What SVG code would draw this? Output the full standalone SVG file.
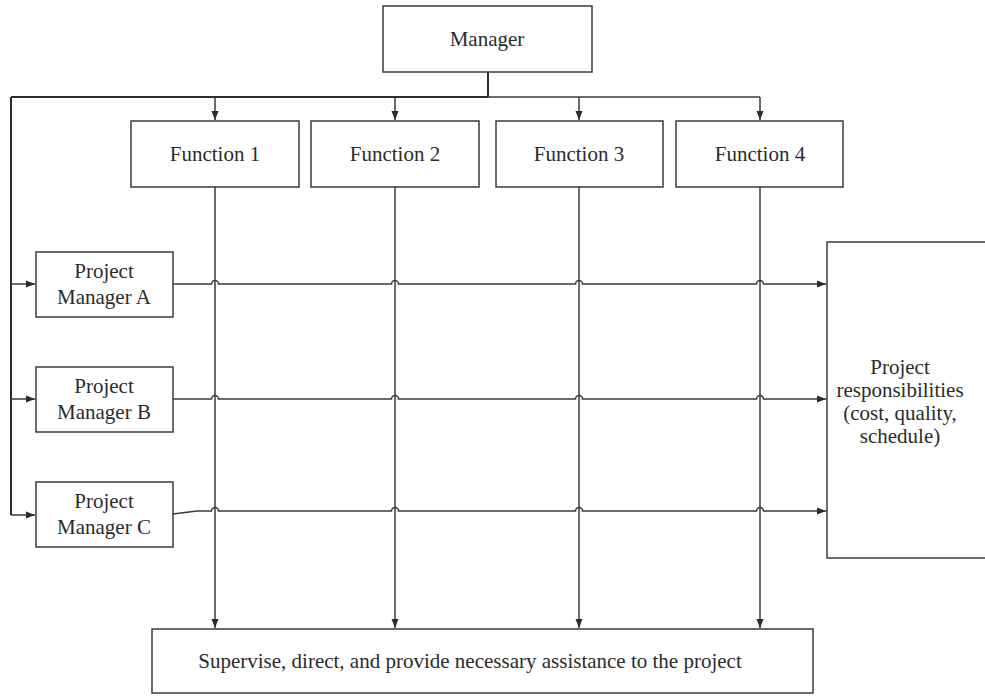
<svg xmlns="http://www.w3.org/2000/svg" width="985" height="697" viewBox="0 0 985 697">
  <defs>
    <marker id="arrow" markerWidth="10" markerHeight="8" refX="9" refY="4" orient="auto" markerUnits="userSpaceOnUse">
      <path d="M0,0.5 L9,4 L0,7.5 Z" fill="#2b2b2b"/>
    </marker>
    <style>
      .box { fill: #ffffff; stroke: #3a3a3a; stroke-width: 1.5; }
      .lbl { font-family: "Liberation Serif", "Times New Roman", serif; font-size: 21px; fill: #2b2b2b; text-anchor: middle; }
      .wire { fill: none; stroke: #3a3a3a; stroke-width: 1.5; }
      .bus { fill: none; stroke: #2b2b2b; stroke-width: 2; }
    </style>
  </defs>
  <rect width="985" height="697" fill="#ffffff"/>

  <!-- connectors -->
  <g id="connectors">
    <!-- manager trunk and distribution bus -->
    <path class="bus" d="M488,72 V97"/>
    <path class="bus" d="M11,97 H488"/>
    <path class="wire" d="M488,97 H760"/>
    <path class="bus" d="M11,97 V515"/>
    <!-- drops to functions -->
    <path class="wire" d="M215,97 V120" marker-end="url(#arrow)"/>
    <path class="wire" d="M395,97 V120" marker-end="url(#arrow)"/>
    <path class="wire" d="M579,97 V120" marker-end="url(#arrow)"/>
    <path class="wire" d="M760,97 V120" marker-end="url(#arrow)"/>
    <!-- feeds to project managers -->
    <path class="wire" d="M11,284 H35" marker-end="url(#arrow)"/>
    <path class="wire" d="M11,399 H35" marker-end="url(#arrow)"/>
    <path class="wire" d="M11,515 H35" marker-end="url(#arrow)"/>
    <!-- function verticals down to the support box -->
    <path class="wire" d="M215,187 V628" marker-end="url(#arrow)"/>
    <path class="wire" d="M395,187 V628" marker-end="url(#arrow)"/>
    <path class="wire" d="M579,187 V628" marker-end="url(#arrow)"/>
    <path class="wire" d="M760,187 V628" marker-end="url(#arrow)"/>
    <!-- project manager lines with hops over the function verticals -->
    <path class="wire" d="M173,284 H211.5 a3.5,3.5 0 0 1 7,0 H391.5 a3.5,3.5 0 0 1 7,0 H575.5 a3.5,3.5 0 0 1 7,0 H756.5 a3.5,3.5 0 0 1 7,0 H826" marker-end="url(#arrow)"/>
    <path class="wire" d="M173,399 H211.5 a3.5,3.5 0 0 1 7,0 H391.5 a3.5,3.5 0 0 1 7,0 H575.5 a3.5,3.5 0 0 1 7,0 H756.5 a3.5,3.5 0 0 1 7,0 H826" marker-end="url(#arrow)"/>
    <path class="wire" d="M173,514 L197,511 H211.5 a3.5,3.5 0 0 1 7,0 H391.5 a3.5,3.5 0 0 1 7,0 H575.5 a3.5,3.5 0 0 1 7,0 H756.5 a3.5,3.5 0 0 1 7,0 H826" marker-end="url(#arrow)"/>
  </g>

  <g id="manager">
    <rect class="box" x="383" y="6" width="209" height="66"/>
    <text class="lbl" x="487" y="46">Manager</text>
  </g>

  <g id="function-1">
    <rect class="box" x="131" y="121" width="168" height="66"/>
    <text class="lbl" x="215" y="161">Function 1</text>
  </g>
  <g id="function-2">
    <rect class="box" x="311" y="121" width="168" height="66"/>
    <text class="lbl" x="395" y="161">Function 2</text>
  </g>
  <g id="function-3">
    <rect class="box" x="496" y="121" width="167" height="66"/>
    <text class="lbl" x="579" y="161">Function 3</text>
  </g>
  <g id="function-4">
    <rect class="box" x="676" y="121" width="167" height="66"/>
    <text class="lbl" x="760" y="161">Function 4</text>
  </g>

  <g id="project-manager-a">
    <rect class="box" x="36" y="252" width="137" height="65"/>
    <text class="lbl" x="104" y="278">Project</text>
    <text class="lbl" x="104" y="304">Manager A</text>
  </g>
  <g id="project-manager-b">
    <rect class="box" x="36" y="367" width="137" height="65"/>
    <text class="lbl" x="104" y="393">Project</text>
    <text class="lbl" x="104" y="419">Manager B</text>
  </g>
  <g id="project-manager-c">
    <rect class="box" x="36" y="482" width="137" height="65"/>
    <text class="lbl" x="104" y="508">Project</text>
    <text class="lbl" x="104" y="534">Manager C</text>
  </g>

  <g id="project-responsibilities">
    <rect class="box" x="827" y="242" width="170" height="316"/>
    <text class="lbl" x="900" y="374">Project</text>
    <text class="lbl" x="900" y="397">responsibilities</text>
    <text class="lbl" x="900" y="420">(cost, quality,</text>
    <text class="lbl" x="900" y="443">schedule)</text>
  </g>

  <g id="support">
    <rect class="box" x="152" y="629" width="661" height="64"/>
    <text class="lbl" x="470" y="668">Supervise, direct, and provide necessary assistance to the project</text>
  </g>
</svg>
